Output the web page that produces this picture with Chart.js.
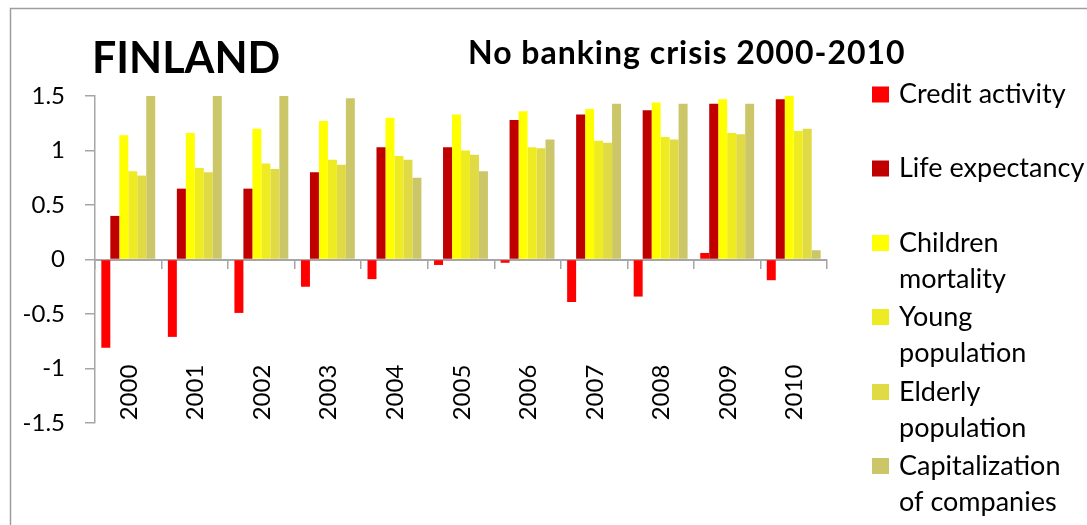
<!DOCTYPE html>
<html>
<head>
<meta charset="utf-8">
<script src="https://cdn.jsdelivr.net/npm/chart.js@4/dist/chart.umd.min.js"></script>
<style>
  html, body { margin: 0; padding: 0; background: #ffffff; }
  canvas { display: block; }
</style>
</head>
<body>
<canvas id="c" width="1087" height="525"></canvas>
<script>
const years = ['2000','2001','2002','2003','2004','2005','2006','2007','2008','2009','2010'];
const creditActivity   = [-0.81, -0.71, -0.49, -0.25, -0.18, -0.05, -0.03, -0.39, -0.34, 0.06, -0.19];
const lifeExpectancy   = [0.40, 0.65, 0.65, 0.80, 1.03, 1.03, 1.28, 1.33, 1.37, 1.43, 1.47];
const childrenMortality= [1.14, 1.16, 1.20, 1.27, 1.30, 1.33, 1.36, 1.38, 1.44, 1.47, 1.50];
const youngPopulation  = [0.81, 0.84, 0.88, 0.915, 0.95, 1.00, 1.03, 1.09, 1.125, 1.16, 1.18];
const elderlyPopulation= [0.77, 0.80, 0.83, 0.87, 0.915, 0.96, 1.02, 1.07, 1.10, 1.15, 1.20];
const capitalization   = [1.50, 1.50, 1.50, 1.48, 0.75, 0.81, 1.10, 1.43, 1.43, 1.43, 0.085];
const seriesNames = ['Credit activity', 'Life expectancy', 'Children mortality', 'Young population', 'Elderly population', 'Capitalization of companies'];
const legendLines = [['Credit activity'], ['Life expectancy'], ['Children', 'mortality'], ['Young', 'population'], ['Elderly', 'population'], ['Capitalization', 'of companies']];
const yTickLabels = ['-1.5', '-1', '-0.5', '0', '0.5', '1', '1.5'];
const titleText = 'FINLAND';
const subtitleText = 'No banking crisis 2000-2010';

const colors = ['#FF0000', '#C00000', '#FFFF00', '#EFEB22', '#E0DB45', '#CBC768'];
const FONT = 'Lato, "Open Sans", sans-serif';
const AXIS_COLOR = '#A6A6A6';

const seriesData = [creditActivity, lifeExpectancy, childrenMortality, youngPopulation, elderlyPopulation, capitalization];

const decorPlugin = {
  id: 'decor',
  beforeDraw(chart) {
    const ctx = chart.ctx;
    ctx.save();
    ctx.strokeStyle = '#9E9E9E';
    ctx.lineWidth = 1.5;
    ctx.strokeRect(10.5, 8.5, 1200, 600);
    ctx.restore();
  },
  afterDraw(chart) {
    const ctx = chart.ctx;
    const xs = chart.scales.x;
    const ca = chart.chartArea;
    ctx.save();
    ctx.fillStyle = '#000000';
    // Titles
    ctx.textBaseline = 'alphabetic';
    ctx.textAlign = 'left';
    ctx.font = 'bold 43px ' + FONT;
    ctx.fillText(titleText, 92, 73);
    ctx.font = 'bold 32px ' + FONT;
    try { ctx.letterSpacing = '1px'; } catch (e) {}
    ctx.fillText(subtitleText, 468, 64);
    try { ctx.letterSpacing = '0px'; } catch (e) {}
    // Category labels (rotated)
    ctx.font = '24px ' + FONT;
    years.forEach((yr, i) => {
      const x = xs.getPixelForValue(i);
      ctx.save();
      ctx.translate(x + 8.5, ca.bottom - 30.5);
      ctx.rotate(-Math.PI / 2);
      ctx.textAlign = 'center';
      ctx.textBaseline = 'alphabetic';
      ctx.fillText(yr, 0, 0);
      ctx.restore();
    });
    // Legend
    const baselines = [103, 177, 251.5, 325.5, 400.5, 474.5];
    ctx.font = '27px ' + FONT;
    ctx.textAlign = 'left';
    legendLines.forEach((lines, i) => {
      const b = baselines[i];
      ctx.fillStyle = colors[i];
      ctx.fillRect(872, b - 16.5, 17, 16);
      ctx.fillStyle = '#000000';
      lines.forEach((ln, j) => ctx.fillText(ln, 899, b + j * 36));
    });
    ctx.restore();
  }
};

new Chart(document.getElementById('c'), {
  type: 'bar',
  data: {
    labels: years,
    datasets: seriesData.map((d, i) => ({
      label: seriesNames[i],
      data: d,
      backgroundColor: colors[i],
      borderWidth: 0
    }))
  },
  options: {
    responsive: false,
    animation: false,
    devicePixelRatio: 1,
    layout: { padding: { left: 0, top: 96, right: 260, bottom: 102 } },
    datasets: { bar: { barPercentage: 1, categoryPercentage: 0.81 } },
    plugins: {
      legend: { display: false },
      title: { display: false },
      tooltip: { enabled: false }
    },
    scales: {
      x: {
        position: { y: 0 },
        grid: { drawOnChartArea: false, drawTicks: true, tickLength: 8, color: AXIS_COLOR, lineWidth: 1.5, offset: true },
        border: { display: true, color: AXIS_COLOR, width: 2 },
        ticks: { display: false }
      },
      y: {
        min: -1.5,
        max: 1.5,
        afterFit(scale) { scale.width = 95; },
        ticks: {
          stepSize: 0.5,
          padding: 20,
          color: '#000000',
          font: { family: FONT, size: 24 },
          callback: (v, idx) => yTickLabels[idx]
        },
        grid: { drawOnChartArea: false, drawTicks: true, tickLength: 10, color: AXIS_COLOR, lineWidth: 1.5 },
        border: { display: true, color: AXIS_COLOR, width: 1.5 }
      }
    }
  },
  plugins: [decorPlugin]
});
</script>
</body>
</html>
